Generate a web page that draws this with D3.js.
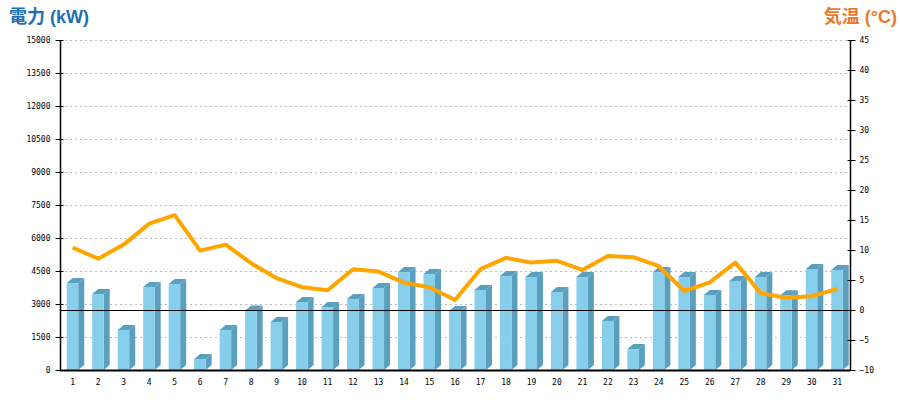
<!DOCTYPE html>
<html><head><meta charset="utf-8">
<script src="https://cdn.jsdelivr.net/npm/d3@7"></script>
<style>body{margin:0;background:#fff}svg{display:block}</style>
</head><body>
<svg id="c" width="900" height="400"></svg>
<script>
const days = d3.range(1, 32).map(String);
const power = [3950, 3450, 1820, 3770, 3910, 500, 1820, 2710, 2180, 3090, 2860, 3230, 3730, 4450, 4360, 2680, 3640, 4270, 4230, 3550, 4230, 2230, 950, 4450, 4230, 3410, 4050, 4230, 3400, 4590, 4550];
const temp = [10.4, 8.55, 10.9, 14.4, 15.8, 9.9, 10.9, 7.8, 5.3, 3.8, 3.3, 6.8, 6.4, 4.55, 3.8, 1.67, 6.8, 8.7, 7.9, 8.2, 6.67, 9.0, 8.8, 7.3, 3.17, 4.6, 7.9, 2.8, 2.05, 2.3, 3.5];
const leftTicks = [0, 1500, 3000, 4500, 6000, 7500, 9000, 10500, 12000, 13500, 15000];
const rightTicks = [-10, -5, 0, 5, 10, 15, 20, 25, 30, 35, 40, 45];

const L = 60, R = 850, T = 40, B = 370;
const svg = d3.select("#c");
const x = d3.scaleBand().domain(days).range([L, R]);
const y = d3.scaleLinear().domain([0, 15000]).range([B, T]);
const y2 = d3.scaleLinear().domain([-10, 45]).range([B, T]);
const cx = d => x(d) + x.bandwidth() / 2;
const mono = "'DejaVu Sans Mono', monospace";

// grid
svg.append("g").selectAll("line").data(leftTicks.slice(1)).join("line")
  .attr("x1", L).attr("x2", R).attr("y1", d => y(d) + 0.5).attr("y2", d => y(d) + 0.5)
  .attr("stroke", "#bbb").attr("stroke-dasharray", "2,3");

// bars
const front = "#87CEEB", side = "#5AA0BE";
const dx = 6, dy = 5, fl = -6, fw = 11.5;
const bars = svg.append("g").selectAll("g").data(days).join("g");
bars.append("path").attr("fill", side).attr("d", (d, i) => {
  const x0 = cx(d) + fl, x1 = x0 + fw, yt = y(power[i]), yb = y(0);
  return `M${x1},${yb}L${x1},${yt}L${x1 + dx},${yt - dy}L${x1 + dx},${yb - dy}Z`;
});
bars.append("path").attr("fill", side).attr("d", (d, i) => {
  const x0 = cx(d) + fl, x1 = x0 + fw, yt = y(power[i]);
  return `M${x0},${yt}L${x0 + dx},${yt - dy}L${x1 + dx},${yt - dy}L${x1},${yt}Z`;
});
bars.append("rect").attr("fill", front)
  .attr("x", d => cx(d) + fl).attr("width", fw)
  .attr("y", (d, i) => y(power[i])).attr("height", (d, i) => y(0) - y(power[i]));

// zero temperature line
svg.append("line").attr("x1", L).attr("x2", R).attr("y1", y2(0) + 0.5).attr("y2", y2(0) + 0.5)
  .attr("stroke", "#000").attr("stroke-width", 1.2);

// axes
const axL = svg.append("g").attr("transform", `translate(${L + 0.5},0)`)
  .call(d3.axisLeft(y).tickValues(leftTicks).tickSize(5).tickPadding(5).tickFormat(d3.format("d")));
const axR = svg.append("g").attr("transform", `translate(${R + 0.5},0)`)
  .call(d3.axisRight(y2).tickValues(rightTicks).tickSize(5).tickPadding(4).tickFormat(d3.format("d")));
[axL, axR].forEach(a => {
  a.select(".domain").remove();
  a.selectAll(".tick line").attr("stroke", "#000");
  a.selectAll("text").attr("font-family", mono).attr("font-size", 8).attr("fill", "#000");
});
axL.selectAll(".tick line").attr("x1", 3);
axR.selectAll(".tick line").attr("x1", -3);
svg.append("line").attr("x1", L + 0.5).attr("x2", L + 0.5).attr("y1", T).attr("y2", B + 1).attr("stroke", "#000").attr("stroke-width", 1.5);
svg.append("line").attr("x1", R + 0.5).attr("x2", R + 0.5).attr("y1", T).attr("y2", B + 1).attr("stroke", "#000").attr("stroke-width", 1.5);

const axB = svg.append("g").attr("transform", `translate(0,${B})`)
  .call(d3.axisBottom(x).tickSize(0).tickPadding(9));
axB.select(".domain").remove();
axB.selectAll("text").attr("font-family", mono).attr("font-size", 8).attr("fill", "#000");
svg.append("line").attr("x1", L).attr("x2", R).attr("y1", B + 0.5).attr("y2", B + 0.5).attr("stroke", "#000").attr("stroke-width", 2);

// temperature line
svg.append("path").datum(temp)
  .attr("fill", "none").attr("stroke", "#FFA500").attr("stroke-width", 4).attr("stroke-linejoin", "round")
  .attr("d", d3.line().x((d, i) => cx(days[i])).y(d => y2(d)));

// titles
const tf = "'Liberation Sans', 'Noto Sans CJK JP', sans-serif";
svg.append("text").attr("x", 9).attr("y", 23).attr("font-family", tf)
  .attr("font-weight", "bold").attr("font-size", 18).attr("fill", "#1F6FB5").text("電力 (kW)");
svg.append("text").attr("x", 897).attr("y", 23).attr("text-anchor", "end").attr("font-family", tf)
  .attr("font-weight", "bold").attr("font-size", 18).attr("fill", "#E9792B").text("気温 (°C)");
</script>
</body></html>
